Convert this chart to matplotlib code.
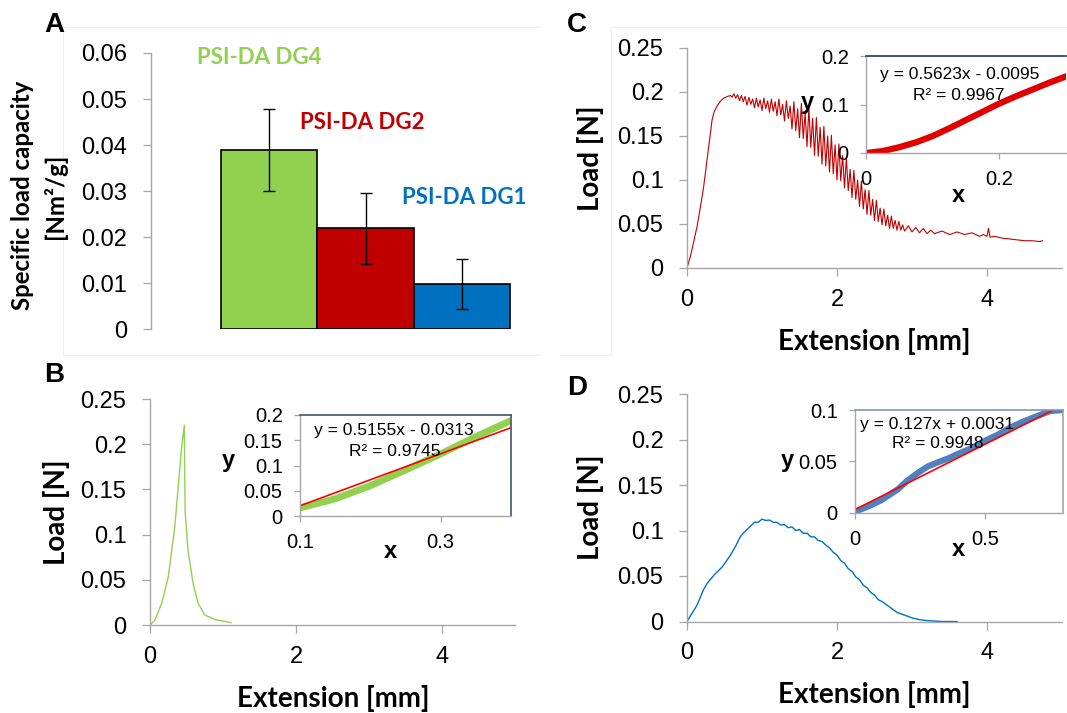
import matplotlib
matplotlib.use('Agg')
import matplotlib.pyplot as plt
from matplotlib.lines import Line2D

# ---------------- data ----------------
groups = ['PSI-DA DG4', 'PSI-DA DG2', 'PSI-DA DG1']
capacity = [0.039, 0.022, 0.0098]
capacity_err = [0.0089, 0.0077, 0.0054]
group_colors = ['#92D050', '#C00000', '#0070C0']
a_yticks = [0, 0.01, 0.02, 0.03, 0.04, 0.05, 0.06]
a_yticklabels = ['0', '0.01', '0.02', '0.03', '0.04', '0.05', '0.06']

load_yticks = [0, 0.05, 0.1, 0.15, 0.2, 0.25]
load_yticklabels = ['0', '0.05', '0.1', '0.15', '0.2', '0.25']
ext_xticks = [0, 2, 4]
ext_xticklabels = ['0', '2', '4']

# B: DG4 load curve
b_ext = [0, 0.068, 0.16, 0.25, 0.34, 0.43, 0.47, 0.48, 0.52, 0.59, 0.66, 0.75, 0.89, 1.11]
b_load = [0, 0.0055, 0.024, 0.053, 0.109, 0.194, 0.221, 0.127, 0.083, 0.046, 0.024, 0.011, 0.006, 0.0026]
# B inset
bi_ext = [0.1, 0.15, 0.2, 0.25, 0.3, 0.35, 0.4]
bi_load = [0.016, 0.034, 0.060, 0.091, 0.123, 0.157, 0.189]
bi_fit = (0.5155, -0.0313)
bi_eq = ['y = 0.5155x - 0.0313', 'R\u00b2 = 0.9745']

# C: DG2 load curve
c_ext = [
    0, 0.045, 0.09, 0.134, 0.18, 0.223, 0.26, 0.29, 0.315, 0.334,
    0.36, 0.40, 0.45, 0.49, 0.54, 0.58, 0.60, 0.625, 0.65, 0.675,
    0.70, 0.725, 0.75, 0.775, 0.80, 0.825, 0.85, 0.875, 0.90, 0.925,
    0.95, 0.975, 1.00, 1.025, 1.05, 1.075, 1.10, 1.125, 1.15, 1.175,
    1.20, 1.225, 1.25, 1.275, 1.30, 1.325, 1.35, 1.375, 1.40, 1.425,
    1.45, 1.475, 1.50, 1.525, 1.55, 1.575, 1.60, 1.625, 1.65, 1.675,
    1.70, 1.725, 1.75, 1.775, 1.80, 1.825, 1.85, 1.875, 1.90, 1.925,
    1.95, 1.975, 2.00, 2.025, 2.05, 2.075, 2.10, 2.125, 2.15, 2.175,
    2.20, 2.225, 2.25, 2.275, 2.30, 2.325, 2.35, 2.375, 2.40, 2.425,
    2.45, 2.475, 2.50, 2.525, 2.55, 2.575, 2.60, 2.625, 2.65, 2.675,
    2.70, 2.725, 2.75, 2.775, 2.80, 2.825, 2.85, 2.875, 2.90, 2.95,
    3.00, 3.05, 3.10, 3.15, 3.20, 3.25, 3.30, 3.40, 3.50, 3.60,
    3.70, 3.80, 3.90, 3.95, 4.00, 4.02, 4.04, 4.10, 4.20, 4.30,
    4.40, 4.50, 4.60, 4.70, 4.74]
c_load = [
    0, 0.013, 0.030, 0.047, 0.070, 0.093, 0.118, 0.138, 0.155, 0.168,
    0.177, 0.184, 0.190, 0.193, 0.195, 0.196, 0.194, 0.198, 0.193, 0.197,
    0.190, 0.196, 0.189, 0.195, 0.185, 0.194, 0.186, 0.192, 0.182, 0.193,
    0.183, 0.191, 0.179, 0.193, 0.181, 0.190, 0.177, 0.192, 0.178, 0.189,
    0.173, 0.192, 0.174, 0.186, 0.167, 0.190, 0.170, 0.184, 0.158, 0.189,
    0.156, 0.181, 0.148, 0.187, 0.147, 0.176, 0.138, 0.182, 0.137, 0.170,
    0.128, 0.171, 0.127, 0.160, 0.118, 0.161, 0.116, 0.150, 0.109, 0.151,
    0.107, 0.140, 0.100, 0.141, 0.099, 0.128, 0.091, 0.125, 0.088, 0.112,
    0.080, 0.111, 0.078, 0.100, 0.070, 0.099, 0.067, 0.089, 0.061, 0.088,
    0.060, 0.078, 0.054, 0.077, 0.053, 0.068, 0.049, 0.067, 0.048, 0.060,
    0.045, 0.059, 0.045, 0.054, 0.043, 0.053, 0.043, 0.049, 0.042, 0.048,
    0.041, 0.046, 0.040, 0.045, 0.039, 0.043, 0.039, 0.042, 0.038, 0.041,
    0.038, 0.040, 0.036, 0.038, 0.036, 0.045, 0.035, 0.036, 0.034, 0.033,
    0.032, 0.031, 0.031, 0.030, 0.031]
# C inset
ci_ext = [0, 0.025, 0.05, 0.075, 0.1, 0.125, 0.15, 0.175, 0.2, 0.225, 0.25, 0.275, 0.3]
ci_load = [0, 0.004, 0.012, 0.022, 0.035, 0.051, 0.068, 0.085, 0.102, 0.117, 0.131, 0.145, 0.158]
ci_eq = ['y = 0.5623x - 0.0095', 'R\u00b2 = 0.9967']

# D: DG1 load curve
d_ext = [
    0, 0.067, 0.134, 0.18, 0.22, 0.27, 0.36, 0.47, 0.58, 0.65,
    0.71, 0.75, 0.80, 0.85, 0.90, 0.95, 1.00, 1.05, 1.10, 1.15,
    1.20, 1.25, 1.30, 1.35, 1.40, 1.45, 1.50, 1.55, 1.60, 1.65,
    1.70, 1.75, 1.80, 1.85, 1.90, 1.95, 2.00, 2.05, 2.10, 2.15,
    2.20, 2.25, 2.30, 2.35, 2.40, 2.45, 2.50, 2.55, 2.60, 2.70,
    2.80, 2.90, 3.00, 3.10, 3.20, 3.30, 3.40, 3.50, 3.60]
d_load = [
    0, 0.009, 0.018, 0.027, 0.035, 0.042, 0.051, 0.060, 0.073, 0.083,
    0.093, 0.097, 0.101, 0.105, 0.109, 0.109, 0.1125, 0.111, 0.1115, 0.109,
    0.109, 0.106, 0.1065, 0.103, 0.104, 0.100, 0.101, 0.097, 0.097, 0.093,
    0.093, 0.089, 0.088, 0.084, 0.081, 0.076, 0.073, 0.067, 0.064, 0.058,
    0.055, 0.049, 0.046, 0.040, 0.037, 0.032, 0.029, 0.024, 0.022, 0.016,
    0.010, 0.007, 0.004, 0.002, 0.001, 0.0005, 0.0, 0.0, 0.0]
# D inset
di_ext = [0, 0.05, 0.10, 0.166, 0.2, 0.243, 0.28, 0.318, 0.36, 0.394, 0.45, 0.5, 0.55, 0.598, 0.65, 0.70, 0.75, 0.80]
di_load = [0.001, 0.006, 0.012, 0.023, 0.031, 0.039, 0.045, 0.049, 0.053, 0.057, 0.063, 0.070, 0.076, 0.083, 0.089, 0.094, 0.099, 0.100]
di_fit = (0.127, 0.0031)
di_eq = ['y = 0.127x + 0.0031', 'R\u00b2 = 0.9948']

# ---------------- layout helpers ----------------
plt.rcParams['font.family'] = ['Liberation Sans', 'DejaVu Sans']
W, H = 1067, 713
fig = plt.figure(figsize=(W / 100, H / 100), dpi=100)
GRAY = '#A6A6A6'
TICK_FS = 17
INSET_FS = 14.5
EQ_FS = 12.5
BOLD_FAM = ['Lato', 'DejaVu Sans']


def ax_px(l, t, r, b, z=1):
    ax = fig.add_axes([l / W, 1 - b / H, (r - l) / W, (b - t) / H])
    ax.set_zorder(z)
    return ax


def txt(x, y, s, **kw):
    kw.setdefault('ha', 'center')
    kw.setdefault('va', 'center')
    fig.text(x / W, 1 - y / H, s, **kw)


def style_main(ax):
    for s in ['top', 'right']:
        ax.spines[s].set_visible(False)
    for s in ['left', 'bottom']:
        ax.spines[s].set_color(GRAY)
        ax.spines[s].set_linewidth(1.0)
    ax.tick_params(direction='out', length=6, width=0.9, color=GRAY,
                   labelsize=TICK_FS, pad=9)
    ax.tick_params(axis='y', pad=11)


def style_inset(ax, top_color, right_color):
    for s in ['left', 'bottom']:
        ax.spines[s].set_color(GRAY)
        ax.spines[s].set_linewidth(1.0)
    ax.spines['top'].set_color(top_color)
    ax.spines['right'].set_color(right_color)
    ax.spines['top'].set_linewidth(1.2)
    ax.spines['right'].set_linewidth(1.2)
    ax.tick_params(direction='out', length=4.5, width=0.9, color=GRAY,
                   labelsize=INSET_FS, pad=8)
    ax.tick_params(axis='y', pad=8)


# faint chart-area borders
for (x0, y0, x1, y1) in [(63, 27, 540, 27), (63, 27, 63, 355), (63, 355, 540, 355),
                         (611, 27, 1067, 27), (611, 27, 611, 355), (560, 355, 611, 355)]:
    fig.add_artist(Line2D([x0 / W, x1 / W], [1 - y0 / H, 1 - y1 / H],
                          color='#EFEFEF', lw=0.8))

# ---------------- Panel A ----------------
axA = ax_px(151, 53, 535, 329.5)
xs = list(range(len(groups)))
axA.bar(xs, capacity, width=1.0, color=group_colors, edgecolor='black',
        linewidth=1.2, yerr=capacity_err, capsize=4,
        error_kw=dict(ecolor='black', elinewidth=1.0, capthick=1.0))
axA.set_ylim(0, 0.06)
axA.set_xlim(-1.23, 2.76)
style_main(axA)
axA.spines['bottom'].set_visible(False)
axA.set_xticks([])
axA.set_yticks(a_yticks)
axA.set_yticklabels(a_yticklabels)
for (lx, ly), g, c in zip([(259, 57.5), (362, 122.5), (464, 197.5)], groups, group_colors):
    txt(lx, ly, g, color=c, fontsize=16, fontweight='bold', family=BOLD_FAM)
txt(23, 195, 'Specific load capacity', rotation=90, fontsize=17.3,
    fontweight='bold', family=BOLD_FAM)
txt(55, 196, '[Nm\u00b2/g]', rotation=90, fontsize=17.3, fontweight='bold', family=BOLD_FAM)

# ---------------- main load panels ----------------
def load_panel(l, t, r, b, xlab_x, xlab_y, ylab_x, ext, load, color, lw=1.0):
    ax = ax_px(l, t, r, b)
    ax.plot(ext, load, color=color, lw=lw)
    ax.set_xlim(0, 5)
    ax.set_ylim(0, 0.25)
    style_main(ax)
    ax.set_xticks(ext_xticks)
    ax.set_xticklabels(ext_xticklabels)
    ax.set_yticks(load_yticks)
    ax.set_yticklabels(load_yticklabels)
    txt(xlab_x, xlab_y, 'Extension [mm]', fontsize=20, fontweight='bold', family=BOLD_FAM)
    txt(ylab_x, (t + b) / 2, 'Load [N]', rotation=90, fontsize=20,
        fontweight='bold', family=BOLD_FAM)
    return ax


axB = load_panel(150, 399, 515, 625, 333, 698, 56, b_ext, b_load, '#92D050')
axC = load_panel(687, 48, 1062, 268, 874, 342, 590, c_ext, c_load, '#C00000', lw=0.8)
axD = load_panel(687, 394, 1062, 621.5, 874, 694, 590, d_ext, d_load, '#0070C0')

# ---------------- insets ----------------
# B inset
axBi = ax_px(300, 415, 511, 516, z=3)
axBi.plot(bi_ext, bi_load, color='#92D050', lw=5, solid_capstyle='butt')
fx = [bi_ext[0], bi_ext[-1]]
axBi.plot(fx, [bi_fit[0] * v + bi_fit[1] for v in fx], color='#FF0000', lw=1.2)
axBi.set_xlim(0.1, 0.4)
axBi.set_ylim(0, 0.2)
style_inset(axBi, '#44546A', '#44546A')
axBi.set_xticks([0.1, 0.3])
axBi.set_xticklabels(['0.1', '0.3'])
axBi.set_yticks([0, 0.05, 0.1, 0.15, 0.2])
axBi.set_yticklabels(['0', '0.05', '0.1', '0.15', '0.2'])
txt(394, 431, bi_eq[0], fontsize=EQ_FS, zorder=10)
txt(395, 452, bi_eq[1], fontsize=EQ_FS, zorder=10)
txt(228, 460, 'y', fontsize=17, fontweight='bold', zorder=10)
txt(390, 551, 'x', fontsize=17, fontweight='bold', zorder=10)

# C inset
axCi = ax_px(866, 56, 1066, 153, z=3)
axCi.plot(ci_ext, ci_load, color='#E00000', lw=4.5)
axCi.set_xlim(0, 0.3)
axCi.set_ylim(0, 0.2)
style_inset(axCi, '#1F3A5F', 'none')
axCi.set_xticks([0, 0.2])
axCi.set_xticklabels(['0', '0.2'])
axCi.set_yticks([0, 0.1, 0.2])
axCi.set_yticklabels(['0', '0.1', '0.2'])
txt(960, 74.5, ci_eq[0], fontsize=EQ_FS, zorder=10)
txt(959, 95.5, ci_eq[1], fontsize=EQ_FS, zorder=10)
txt(807, 103, 'y', fontsize=17, fontweight='bold', zorder=10)
txt(958, 196, 'x', fontsize=17, fontweight='bold', zorder=10)

# D inset
axDi = ax_px(855, 410, 1063, 512.7, z=3)
axDi.plot(di_ext, di_load, color='#4F81BD', lw=4.5)
fx = [0, 0.8]
axDi.plot(fx, [di_fit[0] * v + di_fit[1] for v in fx], color='#FF0000', lw=1.2)
axDi.set_xlim(0, 0.8)
axDi.set_ylim(0, 0.1)
style_inset(axDi, '#8496B0', '#A6A6A6')
axDi.set_xticks([0, 0.5])
axDi.set_xticklabels(['0', '0.5'])
axDi.set_yticks([0, 0.05, 0.1])
axDi.set_yticklabels(['0', '0.05', '0.1'])
txt(937.5, 425, di_eq[0], fontsize=EQ_FS, zorder=10)
txt(937.5, 443.5, di_eq[1], fontsize=EQ_FS, zorder=10)
txt(787, 461, 'y', fontsize=17, fontweight='bold', zorder=10)
txt(958, 549, 'x', fontsize=17, fontweight='bold', zorder=10)

# panel letters
for lx, ly, s in [(54, 25, 'A'), (54, 375, 'B'), (577, 25, 'C'), (577, 388, 'D')]:
    txt(lx, ly, s, fontsize=20, fontweight='bold')

fig.savefig('out.png', dpi=100)
